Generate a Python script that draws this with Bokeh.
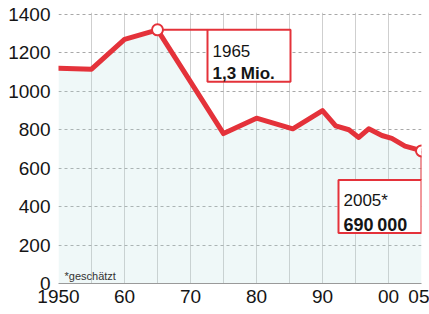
from bokeh.plotting import figure
from bokeh.models import ColumnDataSource, FixedTicker, Range1d
from bokeh.core.properties import value
from bokeh.embed import file_html
from bokeh.resources import INLINE

# ---- data ----
years = [1950, 1955, 1960, 1965, 1975, 1980, 1985.5, 1990, 1992, 1994, 1995.5,
         1997, 1999, 2000.5, 2002.5, 2004, 2005]
values = [1120, 1115, 1270, 1320, 780, 860, 805, 900, 820, 800, 760,
          805, 770, 755, 715, 700, 690]
x_tick_vals = [1950, 1960, 1970, 1980, 1990, 2000, 2005]
x_tick_labels = ["1950", "60", "70", "80", "90", "00", "05"]
y_tick_vals = [0, 200, 400, 600, 800, 1000, 1200, 1400]
peak_year, peak_value = 1965, 1320
last_year, last_value = 2005, 690
peak_text = ["1965", "1,3 Mio."]
last_text = ["2005*", "690\u2009000"]
footnote = "*geschätzt"

# ---- layout ----
W, H = 429, 314
BL, BR, BT, BB = 58, 8, 12, 31
X0, X1 = 1950, 2005
Y0, Y1 = 0, 1410
fw, fh = W - BL - BR, H - BT - BB
pxx = fw / (X1 - X0)
pxy = fh / (Y1 - Y0)

RED = "#e4323a"
FONT = "Liberation Sans"

p = figure(width=W, height=H, output_backend="svg", toolbar_location=None,
           x_range=Range1d(X0, X1), y_range=Range1d(Y0, Y1),
           min_border_left=BL, min_border_right=BR, min_border_top=BT,
           min_border_bottom=BB)
p.outline_line_color = None
p.background_fill_color = "white"

# grids
p.xgrid.ticker = FixedTicker(ticks=list(range(1950, 2006, 5)))
p.xgrid.grid_line_color = "#cfcfcf"
p.xgrid.grid_line_width = 1
p.ygrid.ticker = FixedTicker(ticks=y_tick_vals[1:])
p.ygrid.grid_line_color = "#a8a8a8"
p.ygrid.grid_line_dash = "3 3"

# axes
p.xaxis.ticker = FixedTicker(ticks=x_tick_vals)
p.xaxis.major_label_overrides = {v: l for v, l in zip(x_tick_vals, x_tick_labels)}
p.yaxis.ticker = FixedTicker(ticks=y_tick_vals)
for ax in (p.xaxis, p.yaxis):
    ax.major_label_text_font = FONT
    ax.major_label_text_font_size = "19px"
    ax.major_label_text_color = "#151515"
    ax.minor_tick_line_color = None
    ax.major_tick_line_color = None
    ax.major_tick_out = 0
    ax.major_tick_in = 0
p.xaxis.axis_line_color = "#9a9a9a"
p.xaxis.major_label_standoff = 6
p.yaxis.axis_line_color = None
p.yaxis.major_label_standoff = 8

src = ColumnDataSource(dict(x=years, y=values, y0=[0] * len(values)))
p.varea(x="x", y1="y0", y2="y", source=src, fill_color="#b8e0e0", fill_alpha=0.22)
p.line(x="x", y="y", source=src, line_color=RED, line_width=5,
       line_join="round", line_cap="round")

# annotation boxes (pixel offsets converted to data units)
b1_l = peak_year + 50 / pxx
b1_r = peak_year + 133 / pxx
b1_t = peak_value
b1_b = peak_value - 52 / pxy
p.segment(x0=[peak_year], y0=[peak_value], x1=[b1_l], y1=[peak_value],
          line_color=RED, line_width=2)
p.quad(left=[b1_l], right=[b1_r], top=[b1_t], bottom=[b1_b],
       fill_color="white", line_color=RED, line_width=2)

b2_r = last_year
b2_l = last_year - 83 / pxx
b2_t = last_value - 29 / pxy
b2_b = last_value - 82 / pxy
p.segment(x0=[last_year], y0=[last_value], x1=[last_year], y1=[b2_t],
          line_color=RED, line_width=2)
p.quad(left=[b2_l], right=[b2_r], top=[b2_t], bottom=[b2_b],
       fill_color="white", line_color=RED, line_width=2)

# markers
p.scatter(x=[peak_year, last_year], y=[peak_value, last_value], size=11,
          marker="circle", fill_color="white", line_color=RED, line_width=2)

# annotation texts
p.text(x=[peak_year], y=[peak_value], text=[peak_text[0]], x_offset=55, y_offset=21,
       text_font=value(FONT), text_font_size="17px", text_color="#151515",
       text_baseline="alphabetic")
p.text(x=[peak_year], y=[peak_value], text=[peak_text[1]], x_offset=55, y_offset=44,
       text_font=value(FONT), text_font_size="17px", text_font_style="bold",
       text_color="#151515", text_baseline="alphabetic")
p.text(x=[last_year], y=[last_value], text=[last_text[0]], x_offset=-78, y_offset=50,
       text_font=value(FONT), text_font_size="17px", text_color="#151515",
       text_baseline="alphabetic")
p.text(x=[last_year], y=[last_value], text=[last_text[1]], x_offset=-78, y_offset=74,
       text_font=value(FONT), text_font_size="18px", text_font_style="bold",
       text_color="#151515", text_baseline="alphabetic")

# footnote
p.text(x=[X0], y=[Y0], text=[footnote], x_offset=6, y_offset=-8,
       text_font=value(FONT), text_font_size="11px",
       text_color="#333333", text_baseline="alphabetic")

open("out.html", "w").write(file_html(p, INLINE))
